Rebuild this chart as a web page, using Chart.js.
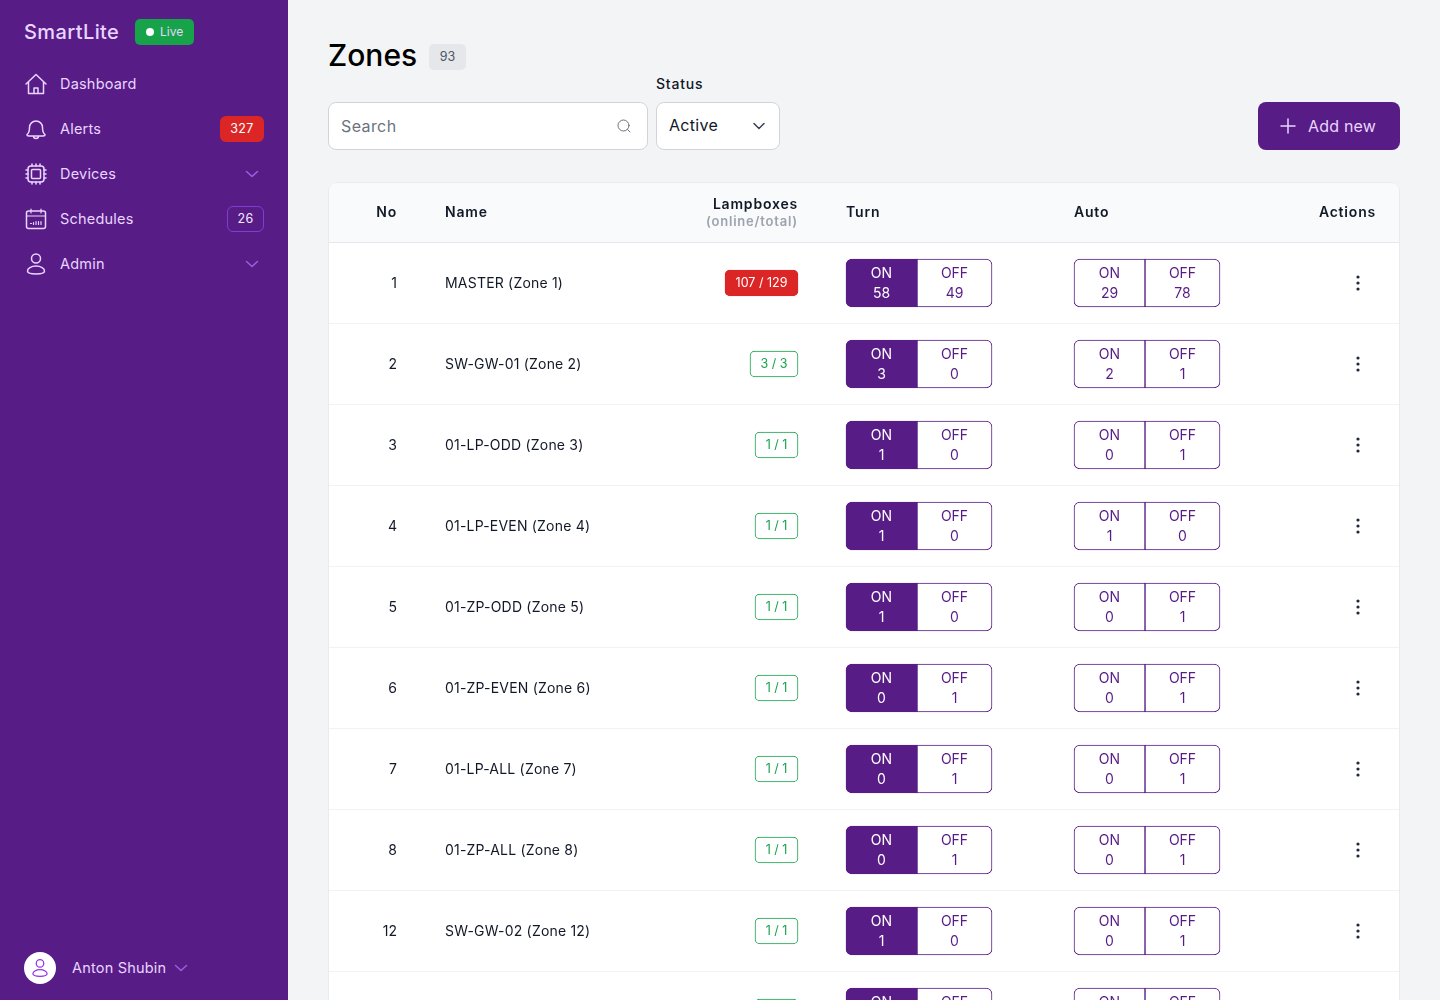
<!DOCTYPE html>
<html>
<head>
<meta charset="utf-8">
<title>Zones</title>
<script src="https://cdn.jsdelivr.net/npm/chart.js@4/dist/chart.umd.js"></script>
<style>
  * { box-sizing: border-box; }
  html, body { margin: 0; width: 1440px; height: 1000px; overflow: hidden; background: #f3f4f6; font-family: Inter, sans-serif; }
  .abs { position: absolute; white-space: nowrap; }
  #side { position: absolute; left: 0; top: 0; width: 288px; height: 1000px; background: #581c87; color: #e9d5ff; }
  .nav { font-size: 14.5px; letter-spacing: .2px; line-height: 20px; left: 60px; }
  .ico { position: absolute; fill: none; stroke: #e9d5ff; stroke-width: 1.5; stroke-linecap: round; stroke-linejoin: round; }
  .chev { position: absolute; fill: none; stroke: #9a5fe0; stroke-width: 1.5; stroke-linecap: round; stroke-linejoin: round; }
  .box { position: absolute; background: #fff; border: 1px solid #d1d5db; border-radius: 8px; }
  #card { position: absolute; left: 328px; top: 182px; width: 1072px; height: 871px; border-radius: 8px; overflow: hidden; }
  #card::after { content: ""; position: absolute; inset: 0; border: 1px solid #e9ebee; border-radius: 8px; pointer-events: none; }
  #table { display: block; }
</style>
</head>
<body>
<div id="side">
  <div class="abs" style="left:24px;top:18px;font-size:20px;font-weight:500;line-height:28px;letter-spacing:.4px">SmartLite</div>
  <div class="abs" style="left:135px;top:19px;width:59px;height:26px;background:#16a34a;border-radius:5px"></div>
  <div class="abs" style="left:146px;top:28px;width:8px;height:8px;border-radius:50%;background:#fff"></div>
  <div class="abs" style="left:160px;top:23px;font-size:12px;line-height:18px">Live</div>

  <svg class="ico" style="left:24px;top:72px" width="24" height="24" viewBox="0 0 24 24"><path d="M2 12 12 2.500 22 12M4.500 10v11.500h15V10M10 21.500V16h4v5.500"/></svg>
  <div class="abs nav" style="top:74px">Dashboard</div>

  <svg class="ico" style="left:24px;top:117px" width="24" height="24" viewBox="0 0 24 24"><path d="M3 17.500c2-1.500 2.500-3.500 2.500-7a6.500 6.500 0 0 1 13 0c0 3.500 .5 5.500 2.500 7 0 1-1 1.500-2 1.500H5c-1 0-2-.5-2-1.500ZM9.500 19c0 3.300 5 3.300 5 0"/></svg>
  <div class="abs nav" style="top:119px">Alerts</div>
  <div class="abs" style="left:220px;top:116px;width:44px;height:26px;background:#dc2626;border-radius:6px;color:#fff;font-size:12.500px;line-height:26px;text-align:center;letter-spacing:.3px">327</div>

  <svg class="ico" style="left:24px;top:162px" width="24" height="24" viewBox="0 0 24 24"><rect x="4" y="4" width="16" height="16" rx="3"/><rect x="7.500" y="7.500" width="9" height="9" rx="1"/><path d="M8 2v2M12 2v2M16 2v2M8 20v2M12 20v2M16 20v2M2 8h2M2 12h2M2 16h2M20 8h2M20 12h2M20 16h2"/></svg>
  <div class="abs nav" style="top:164px">Devices</div>
  <svg class="chev" style="left:244px;top:166px" width="16" height="16" viewBox="0 0 16 16"><path d="M2.500 5.500 8 10.500l5.500-5"/></svg>

  <svg class="ico" style="left:24px;top:207px" width="24" height="24" viewBox="0 0 24 24"><rect x="2.500" y="4" width="19" height="17.500" rx="2"/><path d="M2.500 9h19M7 2v4M17 2v4M6.500 16.500h1M9.500 15.500v2M12 14.500v3M14.500 14.500v3M17 14.500v3" stroke-width="1.200"/></svg>
  <div class="abs nav" style="top:209px">Schedules</div>
  <div class="abs" style="left:227px;top:206px;width:37px;height:26px;border:1px solid #7e3fd0;border-radius:6px;color:#f3e8ff;font-size:12.500px;line-height:24px;text-align:center;letter-spacing:.3px">26</div>

  <svg class="ico" style="left:24px;top:252px" width="24" height="24" viewBox="0 0 24 24"><circle cx="12" cy="6.500" r="4.500"/><path d="M12 14c-5 0-8.500 2.500-8.500 5 0 2 3 3 8.500 3s8.500-1 8.500-3c0-2.500-3.500-5-8.500-5Z"/></svg>
  <div class="abs nav" style="top:254px">Admin</div>
  <svg class="chev" style="left:244px;top:256px" width="16" height="16" viewBox="0 0 16 16"><path d="M2.500 5.500 8 10.500l5.500-5"/></svg>

  <div class="abs" style="left:24px;top:952px;width:32px;height:32px;border-radius:50%;background:#fff"></div>
  <svg class="ico" style="left:30px;top:956px;stroke:#9333ea" width="20" height="24" viewBox="0 0 24 24"><circle cx="12" cy="6.500" r="4.500"/><path d="M12 14c-5 0-8.500 2.500-8.500 5 0 2 3 3 8.500 3s8.500-1 8.500-3c0-2.500-3.500-5-8.500-5Z"/></svg>
  <div class="abs nav" style="left:72px;top:958px">Anton Shubin</div>
  <svg class="chev" style="left:173px;top:960px" width="16" height="16" viewBox="0 0 16 16"><path d="M2.500 5.500 8 10.500l5.500-5"/></svg>
</div>

<div class="abs" style="left:328px;top:33px;font-size:30px;font-weight:500;line-height:44px;color:#000">Zones</div>
<div class="abs" style="left:429px;top:44px;width:37px;height:26px;background:#e5e7eb;border-radius:5px;color:#4b5563;font-size:12.500px;line-height:26px;text-align:center">93</div>

<div class="abs" style="left:656px;top:75px;font-size:14px;font-weight:500;line-height:18px;letter-spacing:.8px;color:#111827">Status</div>

<div class="box" style="left:328px;top:102px;width:320px;height:48px"></div>
<div class="abs" style="left:341px;top:115px;font-size:16px;line-height:22px;letter-spacing:.4px;color:#6b7280">Search</div>
<svg class="abs" style="left:616px;top:118px" width="16" height="16" viewBox="0 0 16 16" fill="none" stroke="#6b7280" stroke-width="1" stroke-linecap="round"><circle cx="7.500" cy="7.500" r="5.500"/><path d="m11.500 11.500 2.500 2.500"/></svg>

<div class="box" style="left:656px;top:102px;width:124px;height:48px"></div>
<div class="abs" style="left:669px;top:114px;font-size:16px;line-height:22px;letter-spacing:.3px;color:#111827">Active</div>
<svg class="abs" style="left:751px;top:118px" width="16" height="16" viewBox="0 0 16 16" fill="none" stroke="#374151" stroke-width="1.500" stroke-linecap="round" stroke-linejoin="round"><path d="M3 5.500 8 10.500l5-5"/></svg>

<div class="abs" style="left:1258px;top:102px;width:142px;height:48px;background:#581c87;border-radius:8px"></div>
<svg class="abs" style="left:1280px;top:118px" width="16" height="16" viewBox="0 0 16 16" fill="none" stroke="#e9d5ff" stroke-width="1.500" stroke-linecap="round"><path d="M8 1v14M1 8h14"/></svg>
<div class="abs" style="left:1308px;top:115px;font-size:16px;line-height:22px;letter-spacing:.2px;color:#e9d5ff">Add new</div>

<div id="card"><canvas id="table" width="1072" height="871"></canvas></div>

<script>
// table rows. last row is cut off by the window, its text can't be read
const zoneNo = ['1', '2', '3', '4', '5', '6', '7', '8', '12', ''];
const zoneName = ['MASTER (Zone 1)', 'SW-GW-01 (Zone 2)', '01-LP-ODD (Zone 3)', '01-LP-EVEN (Zone 4)', '01-ZP-ODD (Zone 5)',
  '01-ZP-EVEN (Zone 6)', '01-LP-ALL (Zone 7)', '01-ZP-ALL (Zone 8)', 'SW-GW-02 (Zone 12)', ''];
const online = [107, 3, 1, 1, 1, 1, 1, 1, 1, 1];
const total = [129, 3, 1, 1, 1, 1, 1, 1, 1, 1];
const turnOn = [58, 3, 1, 1, 1, 0, 0, 0, 1, 1];
const turnOff = [49, 0, 0, 0, 0, 1, 1, 1, 0, 0];
const autoOn = [29, 2, 0, 1, 0, 0, 0, 0, 0, 0];
const autoOff = [78, 1, 1, 0, 1, 1, 1, 1, 1, 1];
const headers = ['No', 'Name', 'Lampboxes', '(online/total)', 'Turn', 'Auto', 'Actions'];

const PURPLE = '#581c87', GREEN = '#16a34a', RED = '#dc2626';
const FONT = 'Inter, sans-serif';

// column edges inside the card, in px
const turnCol = [518, 589, 664];
const autoCol = [746, 817, 892];
const noRight = 69, nameLeft = 117, boxRight = 470, actionsRight = 1048, dotsX = 1030;

const canvas = document.getElementById('table');
const ctx = canvas.getContext('2d');

ctx.font = '12.5px ' + FONT;
const badgeText = online.map((v, i) => v + ' / ' + total[i]);
const badgeRange = badgeText.map(t => [boxRight - Math.round(ctx.measureText(t).width) - 21, boxRight]);

function span(a, b) { return zoneNo.map(() => [a, b]); }
function cellBar(label, data, filled, left) {
  const r = 6;
  return {
    label, data, barThickness: 48, grouped: false, borderWidth: 1, borderSkipped: false,
    borderColor: PURPLE, backgroundColor: filled ? PURPLE : '#fff',
    borderRadius: left ? { topLeft: r, bottomLeft: r, topRight: 0, bottomRight: 0 }
                       : { topLeft: 0, bottomLeft: 0, topRight: r, bottomRight: r }
  };
}

const tableText = {
  id: 'tableText',
  beforeDraw(chart) {
    const c = chart.ctx;
    c.fillStyle = '#fff';
    c.fillRect(0, 0, chart.width, chart.height);
    c.fillStyle = '#f9fafb';
    c.fillRect(0, 0, chart.width, chart.chartArea.top);
  },
  afterDatasetsDraw(chart) {
    const c = chart.ctx, y = chart.scales.y;
    const text = (s, x, yy, font, color, align, sp) => {
      c.font = font + ' ' + FONT;
      c.fillStyle = color;
      c.textAlign = align || 'left';
      c.textBaseline = 'middle';
      c.letterSpacing = sp || '0px';
      c.fillText(s, x, yy);
    };
    c.save();
    const hd = '600 14px', dark = '#111827', sp = '.8px';
    text(headers[0], noRight, 31, hd, dark, 'right', sp);
    text(headers[1], nameLeft, 31, hd, dark, 'left', sp);
    text(headers[2], boxRight, 23, hd, dark, 'right', sp);
    text(headers[3], boxRight, 40, '600 13px', '#9ca3af', 'right', sp);
    text(headers[4], turnCol[0], 31, hd, dark, 'left', sp);
    text(headers[5], autoCol[0], 31, hd, dark, 'left', sp);
    text(headers[6], actionsRight, 31, hd, dark, 'right', sp);

    zoneNo.forEach((no, i) => {
      const m = y.getPixelForValue(i);
      text(no, noRight, m + 1, '400 14px', dark, 'right');
      text(zoneName[i], nameLeft, m + 1, '400 14px', dark, 'left', '.2px');
      const full = online[i] === total[i];
      text(badgeText[i], (badgeRange[i][0] + badgeRange[i][1]) / 2, m, '400 12.5px', full ? GREEN : '#fff', 'center');
      const cells = [
        [turnCol, turnOn[i], turnOff[i], '#fff'],
        [autoCol, autoOn[i], autoOff[i], PURPLE]
      ];
      cells.forEach(([col, on, off, onColor]) => {
        const a = (col[0] + col[1]) / 2, b = (col[1] + col[2]) / 2;
        text('ON', a, m - 9, '400 14px', onColor, 'center');
        text(String(on), a, m + 11, '400 14px', onColor, 'center');
        text('OFF', b, m - 9, '400 14px', PURPLE, 'center');
        text(String(off), b, m + 11, '400 14px', PURPLE, 'center');
      });
      c.fillStyle = '#1f2937';
      [-6, 0, 6].forEach(d => {
        c.beginPath();
        c.arc(dotsX, m + d, 1.6, 0, Math.PI * 2);
        c.fill();
      });
    });
    c.restore();
  }
};

new Chart(ctx, {
  type: 'bar',
  data: {
    labels: zoneNo.map((n, i) => i),
    datasets: [
      {
        label: 'Lampboxes', data: badgeRange, barThickness: 26, grouped: false, borderWidth: 1, borderSkipped: false,
        borderRadius: 5,
        backgroundColor: online.map((v, i) => v === total[i] ? '#fff' : RED),
        borderColor: online.map((v, i) => v === total[i] ? GREEN : RED)
      },
      cellBar('Turn ON', span(turnCol[0], turnCol[1]), true, true),
      cellBar('Turn OFF', span(turnCol[1], turnCol[2]), false, false),
      cellBar('Auto ON', span(autoCol[0], autoCol[1]), false, true),
      cellBar('Auto OFF', span(autoCol[1], autoCol[2]), false, false)
    ]
  },
  options: {
    indexAxis: 'y',
    responsive: false,
    animation: false,
    layout: { padding: { top: 60.5, left: 0, right: 0, bottom: 0.5 } },
    plugins: { legend: { display: false }, tooltip: { enabled: false } },
    scales: {
      x: { type: 'linear', min: 0, max: 1072, display: false },
      y: {
        type: 'category',
        ticks: { display: false },
        border: { display: false },
        grid: { offset: true, color: c => c.index === 0 ? '#e5e7eb' : '#f1f2f4', drawTicks: false },
        afterFit(s) { s.width = 0; }
      }
    }
  },
  plugins: [tableText]
});
</script>
</body>
</html>
